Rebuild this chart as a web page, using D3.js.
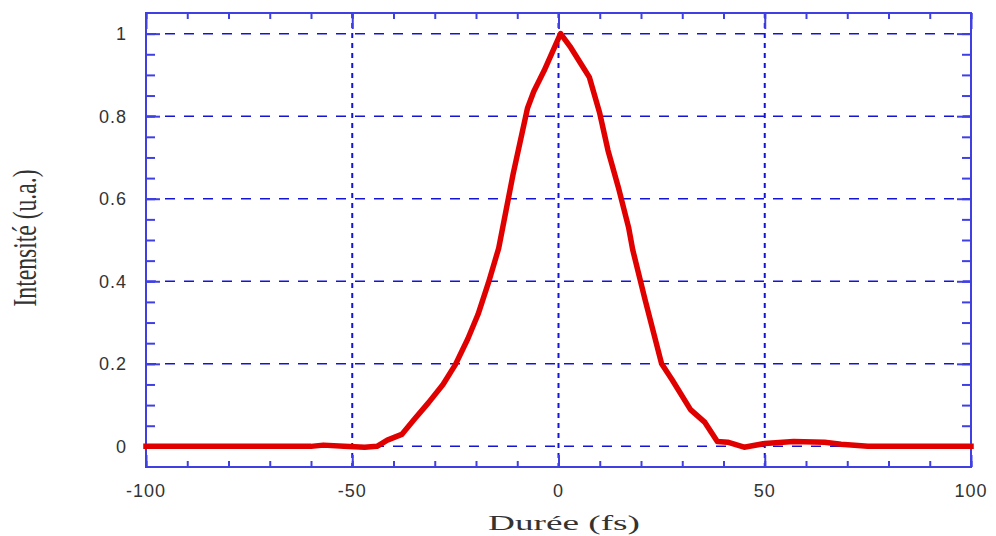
<!DOCTYPE html>
<html>
<head>
<meta charset="utf-8">
<script src="https://cdn.jsdelivr.net/npm/d3@7"></script>
<style>
  html, body { margin: 0; padding: 0; background: #fff; }
  svg { display: block; }
</style>
</head>
<body>
<svg id="chart" width="996" height="536"></svg>
<script>
// ---- data ----
const durations = [-100, -60, -57, -52, -47, -44, -41.5, -38, -35, -31.5, -28, -25, -22, -19.5, -17, -14.5, -11, -7.5, -6, -3.5, 0.5, 3, 6, 7.5, 10, 12, 14.5, 17, 18, 21, 25, 27.5, 32, 35.5, 38.5, 41, 45, 50, 57, 64.5, 68.5, 75, 100];
const intensities = [0, 0, 0.003, 0, -0.002, 0, 0.015, 0.029, 0.065, 0.106, 0.15, 0.198, 0.26, 0.32, 0.396, 0.48, 0.66, 0.82, 0.86, 0.91, 1.0, 0.966, 0.918, 0.894, 0.807, 0.717, 0.628, 0.53, 0.476, 0.355, 0.2, 0.162, 0.089, 0.058, 0.012, 0.01, -0.002, 0.007, 0.012, 0.01, 0.005, 0, 0];
const xTicks = [-100, -50, 0, 50, 100];
const xTickLabels = ["-100", "-50", "0", "50", "100"];
const yTicks = [0, 0.2, 0.4, 0.6, 0.8, 1];
const yTickLabels = ["0", "0.2", "0.4", "0.6", "0.8", "1"];
const xMinor = d3.range(-100, 101, 10);
const yMinor = d3.range(0, 21).map(i => +(i * 0.05).toFixed(2));
const xTitle = "Durée (fs)";
const yTitle = "Intensité (u.a.)";

(function () {
// ---- layout ----
const pl = 146, pr = 971, pt = 13, pb = 467;
const svg = d3.select("#chart");
const x = d3.scaleLinear().domain([-100, 100]).range([pl, pr]);
const y = d3.scaleLinear().domain([-0.05, 1.05]).range([pb, pt]);

const axisColor = "#4040e2";
const gridColor = "#1414d8";

// grid lines
const grid = svg.append("g");
grid.selectAll("line.hg").data(yTicks).join("line")
  .attr("x1", pl).attr("x2", pr)
  .attr("y1", d => y(d)).attr("y2", d => y(d))
  .attr("stroke", gridColor).attr("stroke-width", 1.5)
  .attr("stroke-dasharray", "10,9");
grid.selectAll("line.vg").data(xTicks.slice(1, -1)).join("line")
  .attr("x1", d => x(d)).attr("x2", d => x(d))
  .attr("y1", pt).attr("y2", pb)
  .attr("stroke", gridColor).attr("stroke-width", 2)
  .attr("stroke-dasharray", "5,5");

function styleAxis(g) {
  g.select(".domain").remove();
  g.selectAll("line").attr("stroke", axisColor).attr("stroke-width", 2);
  g.selectAll("text").remove();
}
// minor ticks (inward)
svg.append("g").attr("transform", `translate(0,${pb})`)
  .call(d3.axisTop(x).tickValues(xMinor).tickSize(6)).call(styleAxis);
svg.append("g").attr("transform", `translate(0,${pt})`)
  .call(d3.axisBottom(x).tickValues(xMinor).tickSize(6)).call(styleAxis);
svg.append("g").attr("transform", `translate(${pl},0)`)
  .call(d3.axisRight(y).tickValues(yMinor).tickSize(9)).call(styleAxis);
svg.append("g").attr("transform", `translate(${pr},0)`)
  .call(d3.axisLeft(y).tickValues(yMinor).tickSize(9)).call(styleAxis);
// major ticks
svg.append("g").attr("transform", `translate(0,${pb})`)
  .call(d3.axisTop(x).tickValues(xTicks).tickSize(12)).call(styleAxis);
svg.append("g").attr("transform", `translate(0,${pt})`)
  .call(d3.axisBottom(x).tickValues(xTicks).tickSize(16)).call(styleAxis);
svg.append("g").attr("transform", `translate(${pl},0)`)
  .call(d3.axisRight(y).tickValues(yTicks).tickSize(14)).call(styleAxis);
svg.append("g").attr("transform", `translate(${pr},0)`)
  .call(d3.axisLeft(y).tickValues(yTicks).tickSize(14)).call(styleAxis);

// frame
svg.append("rect")
  .attr("x", pl).attr("y", pt)
  .attr("width", pr - pl).attr("height", pb - pt)
  .attr("fill", "none").attr("stroke", axisColor).attr("stroke-width", 2);

// tick labels
svg.append("g").selectAll("text").data(xTicks).join("text")
  .attr("x", d => x(d)).attr("y", 497)
  .attr("text-anchor", "middle")
  .attr("font-family", "'Liberation Sans', Arial, sans-serif")
  .attr("font-size", 18).attr("letter-spacing", 1)
  .attr("fill", "#333")
  .text((d, i) => xTickLabels[i]);
svg.append("g").selectAll("text").data(yTicks).join("text")
  .attr("x", 127).attr("y", d => y(d))
  .attr("dy", "0.36em")
  .attr("text-anchor", "end")
  .attr("font-family", "'Liberation Sans', Arial, sans-serif")
  .attr("font-size", 18).attr("letter-spacing", 1)
  .attr("fill", "#333")
  .text((d, i) => yTickLabels[i]);

// axis titles
svg.append("text")
  .attr("x", 564).attr("y", 530)
  .attr("text-anchor", "middle")
  .attr("font-family", "'Liberation Serif', 'Times New Roman', serif")
  .attr("font-size", 20)
  .attr("textLength", 152).attr("lengthAdjust", "spacingAndGlyphs")
  .attr("fill", "#333")
  .text(xTitle);
svg.append("text")
  .attr("transform", "translate(36,238) rotate(-90)")
  .attr("text-anchor", "middle")
  .attr("font-family", "'Liberation Serif', 'Times New Roman', serif")
  .attr("font-size", 34)
  .attr("textLength", 137).attr("lengthAdjust", "spacingAndGlyphs")
  .attr("fill", "#333")
  .text(yTitle);

// the curve
const pts = durations.map((d, i) => [d, intensities[i]]);
svg.append("path")
  .datum(pts)
  .attr("fill", "none")
  .attr("stroke", "#e00000")
  .attr("stroke-width", 5.5)
  .attr("stroke-linejoin", "round")
  .attr("stroke-linecap", "square")
  .attr("d", d3.line().x(d => x(d[0])).y(d => y(d[1])));
})();
</script>
</body>
</html>
